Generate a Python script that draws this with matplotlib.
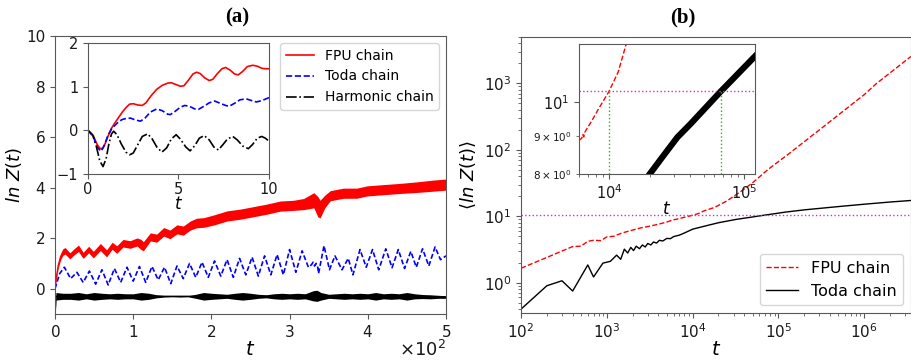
import numpy as np
import matplotlib
matplotlib.use('Agg')
import matplotlib.pyplot as plt

# ---------------- panel (a): main (t in units of 10^2) ----------------
fpu_t = [0, 0.01, 0.04, 0.07, 0.1, 0.13, 0.19, 0.24, 0.3, 0.36, 0.43, 0.49, 0.58, 0.66, 0.73,
         0.79, 0.87, 0.96, 1.05, 1.1, 1.13, 1.22, 1.3, 1.39, 1.47, 1.56, 1.64, 1.73, 1.81, 1.9,
         2.03, 2.2, 2.37, 2.54, 2.71, 2.88, 3.05, 3.18, 3.31, 3.36, 3.39, 3.45, 3.52, 3.69, 3.86,
         3.99, 4.2, 4.42, 4.63, 4.84, 5.0]
fpu_mid = [0, 0.3, 0.9, 1.25, 1.45, 1.5, 1.3, 1.45, 1.6, 1.32, 1.55, 1.35, 1.65, 1.4, 1.7,
           1.55, 1.8, 1.75, 1.85, 1.75, 1.68, 2.05, 2.0, 2.25, 2.15, 2.35, 2.3, 2.5, 2.6, 2.62,
           2.72, 2.88, 2.95, 3.05, 3.15, 3.27, 3.3, 3.35, 3.5, 3.25, 3.15, 3.45, 3.68, 3.78, 3.78,
           3.87, 3.92, 3.97, 4.02, 4.08, 4.12]
fpu_hw = [0.02, 0.08, 0.1, 0.12, 0.13, 0.13, 0.12, 0.12, 0.13, 0.12, 0.13, 0.13, 0.14, 0.14, 0.14,
          0.15, 0.15, 0.15, 0.16, 0.2, 0.18, 0.16, 0.16, 0.17, 0.17, 0.18, 0.18, 0.18, 0.19, 0.19,
          0.2, 0.2, 0.2, 0.2, 0.2, 0.2, 0.2, 0.22, 0.3, 0.4, 0.35, 0.25, 0.2, 0.2, 0.2,
          0.2, 0.2, 0.2, 0.21, 0.22, 0.22]

toda_t = [0, 0.06, 0.12, 0.2, 0.28, 0.36, 0.44, 0.52, 0.6, 0.68, 0.76, 0.84, 0.92, 1.0, 1.08,
          1.16, 1.24, 1.32, 1.40, 1.48, 1.56, 1.64, 1.72, 1.80, 1.88, 1.96, 2.04, 2.12, 2.20,
          2.28, 2.36, 2.44, 2.52, 2.60, 2.68, 2.76, 2.84, 2.92, 3.00, 3.08, 3.16, 3.24, 3.28,
          3.30, 3.32, 3.34, 3.36, 3.37, 3.44, 3.51, 3.58, 3.67, 3.75, 3.81, 3.9, 3.98, 4.06,
          4.14, 4.23, 4.31, 4.39, 4.47, 4.55, 4.62, 4.70, 4.78, 4.86, 4.93, 5.0]
toda_y = [0, 0.6, 0.85, 0.4, 0.65, 0.25, 0.7, 0.18, 0.75, 0.15, 0.8, 0.25, 0.85, 0.3, 0.88,
          0.25, 0.88, 0.35, 0.85, 0.2, 0.9, 0.4, 1.0, 0.45, 1.05, 0.45, 1.1, 0.5, 1.15,
          0.45, 1.2, 0.55, 1.25, 0.5, 1.3, 0.55, 1.35, 0.55, 1.55, 0.65, 1.5, 0.85, 0.95,
          1.05, 0.9, 1.0, 0.85, 0.6, 1.7, 0.75, 1.3, 0.75, 1.2, 0.55, 1.55, 0.85, 1.55,
          0.75, 1.58, 0.83, 1.55, 0.8, 1.48, 0.85, 1.58, 0.9, 1.65, 1.15, 1.3]

harm_t = [0, 0.004, 0.012, 0.1, 0.2, 0.3, 0.4, 0.5, 0.6, 0.7, 0.8, 0.9, 1.0, 1.1, 1.2, 1.3, 1.4,
          1.5, 1.6, 1.7, 1.8, 1.9, 2.0, 2.1, 2.2, 2.3, 2.4, 2.5, 2.6, 2.7, 2.8, 2.9, 3.0, 3.1,
          3.2, 3.3, 3.35, 3.4, 3.5, 3.6, 3.7, 3.8, 3.9, 4.0, 4.1, 4.2, 4.3, 4.4, 4.5, 4.6, 4.7,
          4.8, 4.9, 5.0]
harm_mid = [0, -0.85, -0.3, -0.3, -0.3, -0.3, -0.3, -0.3, -0.3, -0.3, -0.3, -0.3, -0.3, -0.3,
            -0.3, -0.3, -0.3, -0.3, -0.3, -0.3, -0.3, -0.3, -0.3, -0.3, -0.3, -0.3, -0.3, -0.3,
            -0.3, -0.3, -0.3, -0.3, -0.3, -0.3, -0.3, -0.28, -0.28, -0.3, -0.3, -0.3, -0.3,
            -0.3, -0.3, -0.3, -0.3, -0.3, -0.3, -0.3, -0.3, -0.3, -0.31, -0.32, -0.32, -0.33]
harm_hw = [0, 0.05, 0.15, 0.12, 0.12, 0.15, 0.1, 0.15, 0.12, 0.1, 0.12, 0.1, 0.1, 0.15, 0.12,
           0.06, 0.03, 0.02, 0.03, 0.02, 0.08, 0.15, 0.12, 0.1, 0.08, 0.12, 0.15, 0.12, 0.08,
           0.06, 0.1, 0.12, 0.1, 0.12, 0.1, 0.2, 0.22, 0.15, 0.08, 0.1, 0.12, 0.1, 0.12, 0.1,
           0.15, 0.1, 0.12, 0.1, 0.15, 0.1, 0.08, 0.08, 0.06, 0.05]

# ---------------- panel (a): inset ----------------
in_fpu_t = [0, 0.3, 0.5, 0.65, 0.8, 0.95, 1.1, 1.3, 1.5, 1.7, 1.9, 2.1, 2.3, 2.5, 2.75, 3.0,
            3.2, 3.5, 3.8, 4.1, 4.4, 4.6, 4.85, 5.1, 5.3, 5.55, 5.8, 6.0, 6.2, 6.45, 6.7, 6.9,
            7.15, 7.4, 7.6, 7.85, 8.1, 8.3, 8.55, 8.8, 9.1, 9.35, 9.6, 9.8, 10]
in_fpu_y = [0, -0.13, -0.32, -0.41, -0.42, -0.3, -0.14, 0.05, 0.18, 0.3, 0.42, 0.52, 0.6, 0.61,
            0.58, 0.57, 0.63, 0.8, 0.94, 1.03, 1.08, 1.09, 1.05, 1.01, 1.02, 1.15, 1.29, 1.33,
            1.3, 1.2, 1.14, 1.17, 1.3, 1.41, 1.44, 1.38, 1.29, 1.27, 1.35, 1.46, 1.49, 1.47,
            1.42, 1.41, 1.41]
in_toda_t = [0, 0.3, 0.5, 0.72, 0.9, 1.1, 1.3, 1.5, 1.7, 1.9, 2.1, 2.35, 2.6, 2.9, 3.15, 3.45,
             3.8, 4.1, 4.4, 4.55, 4.8, 5.1, 5.35, 5.6, 5.9, 6.1, 6.4, 6.7, 7.0, 7.3, 7.6, 7.8,
             8.1, 8.4, 8.75, 9.05, 9.3, 9.6, 10]
in_toda_y = [0, -0.15, -0.38, -0.48, -0.35, -0.12, 0.03, 0.12, 0.2, 0.25, 0.27, 0.28, 0.24,
             0.21, 0.28, 0.42, 0.49, 0.45, 0.37, 0.36, 0.43, 0.53, 0.57, 0.55, 0.49, 0.48,
             0.55, 0.63, 0.67, 0.62, 0.57, 0.55, 0.62, 0.7, 0.72, 0.68, 0.65, 0.68, 0.75]
in_harm_t = [0, 0.25, 0.45, 0.65, 0.83, 1.0, 1.15, 1.3, 1.42, 1.6, 1.85, 2.1, 2.3, 2.5, 2.75,
             3.0, 3.3, 3.55, 3.8, 4.08, 4.35, 4.6, 4.87, 5.1, 5.4, 5.64, 5.9, 6.15, 6.42, 6.7,
             6.95, 7.2, 7.45, 7.7, 8.0, 8.25, 8.55, 8.86, 9.1, 9.35, 9.6, 9.8, 10]
in_harm_y = [0, -0.1, -0.35, -0.7, -0.83, -0.65, -0.32, -0.08, -0.02, -0.1, -0.32, -0.5,
             -0.56, -0.52, -0.33, -0.14, -0.08, -0.2, -0.38, -0.5, -0.4, -0.2, -0.1, -0.2,
             -0.38, -0.47, -0.35, -0.18, -0.12, -0.22, -0.38, -0.45, -0.33, -0.2, -0.14,
             -0.22, -0.36, -0.42, -0.32, -0.18, -0.14, -0.18, -0.25]

# ---------------- panel (b): main ----------------
b_fpu_t = [1e2, 2e2, 3e2, 4e2, 5e2, 6e2, 7e2, 8.5e2, 1e3, 1.2e3, 1.5e3, 2e3, 2.5e3, 3e3, 4e3,
           5e3, 6e3, 6.4e3, 6.5e3, 6.64e3, 7.4e3, 8.5e3, 1e4, 1.17e4, 1.34e4, 1.8e4, 2.5e4,
           3.7e4, 5e4, 7.6e4, 1.3e5, 3e5, 1e6, 1.39e6, 3.5e6]
b_fpu_y = [1.65, 2.4, 3.0, 3.5, 3.55, 4.2, 4.35, 4.3, 4.9, 5.0, 5.6, 6.2, 6.7, 7.0, 7.6,
           8.2, 8.88, 9.0, 8.95, 9.12, 9.42, 9.85, 10.35, 11.0, 12.0, 13.6, 17.0,
           24.0, 32.0, 51.0, 86.0, 200.0, 680.0, 1000.0, 2550.0]
b_toda_t = [1e2, 2e2, 3e2, 4e2, 6e2, 7e2, 9e2, 1.1e3, 1.3e3, 1.45e3, 1.6e3, 1.75e3, 1.9e3,
            2.05e3, 2.2e3, 2.4e3, 2.6e3, 2.8e3, 3.0e3, 3.25e3, 3.5e3, 3.8e3, 4.1e3, 4.5e3,
            5e3, 5.5e3, 6e3, 7e3, 8e3, 1e4, 1.5e4, 2e4, 3.2e4, 5e4, 6.7e4, 1e5, 1.2e5, 2e5,
            5e5, 1e6, 2e6, 3.5e6]
b_toda_y = [0.40, 0.9, 1.07, 0.75, 1.85, 1.22, 1.97, 2.1, 2.6, 2.25, 3.2, 2.8, 3.4,
            3.05, 3.55, 3.25, 3.7, 3.45, 3.9, 3.7, 4.1, 3.95, 4.35, 4.25,
            4.65, 4.6, 4.95, 5.2, 5.6, 6.4, 7.3, 8.0, 8.97, 9.77, 10.35, 11.16, 11.55, 12.5,
            14.0, 15.2, 16.4, 17.3]

# ---------------- panel (b): inset ----------------
bi_fpu_t = [6000, 6300, 6400, 6500, 6640, 7400, 8500, 1e4, 1.17e4, 1.34e4, 1.45e4]
bi_fpu_y = [8.88, 8.95, 9.05, 8.98, 9.12, 9.42, 9.85, 10.35, 11.0, 12.0, 12.6]
bi_toda_t = [2.0e4, 2.5e4, 3.2e4, 4e4, 5e4, 6.7e4, 8e4, 1e5, 1.2e5]
bi_toda_y = [8.0, 8.45, 8.97, 9.35, 9.77, 10.35, 10.7, 11.16, 11.55]
threshold = 10.35
cross_t = [1e4, 6.7e4]

W, H = 912, 360
fig = plt.figure(figsize=(W / 100, H / 100), dpi=100)

def frac(x0, y0, x1, y1):
    return [x0 / W, 1 - y1 / H, (x1 - x0) / W, (y1 - y0) / H]

spine_c = '0.35'

def style(ax, lab=11):
    for s in ax.spines.values():
        s.set_color(spine_c)
    ax.tick_params(which='both', colors=spine_c, labelcolor='0.1', labelsize=lab)

# ---- (a) main
axA = fig.add_axes(frac(55, 36, 446, 314))
tA = np.array(fpu_t) * 100
mid = np.array(fpu_mid); hw = np.array(fpu_hw)
axA.fill_between(tA, mid - hw, mid + hw, color='red', lw=0)
axA.plot(tA, mid, color='red', lw=1)
tH = np.array(harm_t) * 100
hm = np.array(harm_mid); hh = np.array(harm_hw)
axA.fill_between(tH, hm - hh, hm + hh, color='black', lw=0)
axA.plot(tH, hm, color='black', lw=1)
axA.plot(np.array(toda_t) * 100, toda_y, color='blue', ls='--', lw=1.2, dashes=(3, 1.5))
axA.set_xlim(0, 500)
axA.set_ylim(-1, 10)
axA.set_yticks([0, 2, 4, 6, 8, 10])
axA.ticklabel_format(axis='x', style='sci', scilimits=(0, 0), useMathText=True)
style(axA, 11)
axA.xaxis.get_offset_text().set_visible(False)
axA.text(1.0, -0.128, '$\\times10^{2}$', transform=axA.transAxes, ha='right', va='center',
         fontsize=13, color='0.1')
axA.set_xlabel('$t$', fontsize=14, labelpad=0)
axA.set_ylabel('$ln\\ Z(t)$', fontsize=13)
axA.yaxis.set_label_coords(-0.08, 0.5)

l1, = axA.plot([], [], color='red', lw=1.2, label='FPU chain')
l2, = axA.plot([], [], color='blue', ls='--', lw=1.2, label='Toda chain')
l3, = axA.plot([], [], color='black', ls='-.', lw=1.2, label='Harmonic chain')
axA.legend(handles=[l1, l2, l3], loc='upper right', fontsize=10, borderaxespad=0.5)

# ---- (a) inset
axAi = fig.add_axes(frac(88, 43, 269, 174))
axAi.plot(in_fpu_t, in_fpu_y, color='red', lw=1.2)
axAi.plot(in_toda_t, in_toda_y, color='blue', ls='--', lw=1.2)
axAi.plot(in_harm_t, in_harm_y, color='black', ls='-.', lw=1.2)
axAi.set_xlim(0, 10)
axAi.set_ylim(-1, 2)
axAi.set_xticks([0, 5, 10])
axAi.set_yticks([-1, 0, 1, 2])
style(axAi, 10.5)
axAi.tick_params(axis='x', pad=2)
axAi.set_xlabel('$t$', fontsize=12, labelpad=-1)

# ---- (b) main
axB = fig.add_axes(frac(521, 37, 911, 313))
axB.set_xscale('log'); axB.set_yscale('log')
axB.plot(b_fpu_t, b_fpu_y, color='red', ls='--', lw=1, label='FPU chain')
axB.plot(b_toda_t, b_toda_y, color='black', lw=1, label='Toda chain')
axB.axhline(threshold, color='#cc33cc', ls=':', lw=1)
axB.set_xlim(1e2, 3.5e6)
axB.set_ylim(0.35, 5000)
style(axB, 11)
axB.set_xlabel('$t$', fontsize=14, labelpad=-1)
axB.set_ylabel('$\\langle ln\\ Z(t)\\rangle$', fontsize=13)
axB.legend(loc='lower right', fontsize=11.5, borderaxespad=0.5)

# ---- (b) inset
axBi = fig.add_axes(frac(579, 44, 755, 174))
axBi.set_xscale('log'); axBi.set_yscale('log')
axBi.plot(bi_fpu_t, bi_fpu_y, color='red', ls='--', lw=1)
axBi.plot(bi_toda_t, bi_toda_y, color='black', lw=4.5)
axBi.axhline(threshold, color='#cc33cc', ls=':', lw=1)
for ct in cross_t:
    axBi.plot([ct, ct], [8, threshold], color='#33aa33', ls=':', lw=1)
axBi.set_xlim(6000, 1.2e5)
axBi.set_ylim(8, 12)
style(axBi, 10.5)
axBi.tick_params(axis='y', which='minor', labelsize=7.5)
axBi.set_xlabel('$t$', fontsize=12, labelpad=-2)

fig.text(237 / W, 1 - 17 / H, '(a)', fontsize=15, fontweight='bold',
         family='Liberation Serif', ha='center', va='center')
fig.text(683 / W, 1 - 17 / H, '(b)', fontsize=15, fontweight='bold',
         family='Liberation Serif', ha='center', va='center')

fig.savefig('out.png', dpi=100)
